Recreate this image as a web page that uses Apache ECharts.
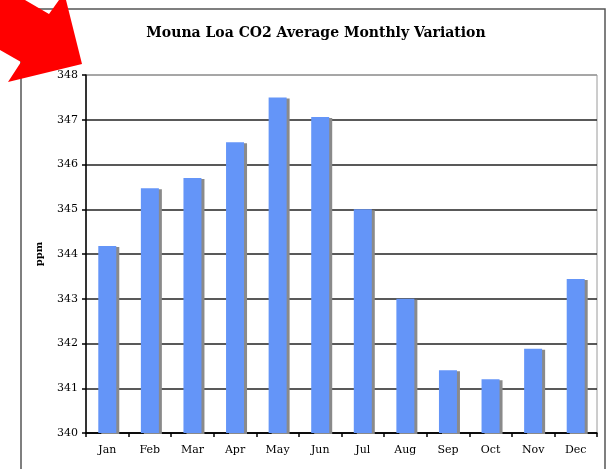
<!DOCTYPE html>
<html>
<head>
<meta charset="utf-8">
<script src="https://cdn.jsdelivr.net/npm/echarts@6/dist/echarts.min.js"></script>
<style>
  html, body { margin: 0; padding: 0; background: #fff; }
  #chart { width: 606px; height: 469px; }
</style>
</head>
<body>
<div id="chart"></div>
<script>
// 月份
var months = ["Jan", "Feb", "Mar", "Apr", "May", "Jun", "Jul", "Aug", "Sep", "Oct", "Nov", "Dec"];
// 平均值 ppm
var co2Values = [344.18, 345.47, 345.7, 346.5, 347.5, 347.06, 345.0, 343.0, 341.4, 341.2, 341.88, 343.44];
var yTicks = [340, 341, 342, 343, 344, 345, 346, 347, 348];

var myChart = echarts.init(document.getElementById("chart"));
var serif = "'DejaVu Serif', 'Liberation Serif', serif";

var option = {
  animation: false,
  backgroundColor: "#ffffff",
  title: {
    text: "Mouna Loa CO2 Average Monthly Variation",
    left: 311,
    top: 21,
    textAlign: "center",
    textStyle: { fontFamily: serif, fontSize: 14, fontWeight: "bold", color: "#000" },
  },
  grid: {
    left: 86,
    right: 9,
    top: 75,
    bottom: 36,
    show: true,
    borderColor: "#9a9a9a",
    borderWidth: 1,
  },
  xAxis: {
    type: "category",
    data: months,
    axisLine: { lineStyle: { color: "#000", width: 1.5 } },
    axisTick: { show: true, length: 4, lineStyle: { color: "#000", width: 1.5 } },
    axisLabel: { fontFamily: serif, fontSize: 11, color: "#000", margin: 12 },
  },
  yAxis: {
    type: "value",
    min: yTicks[0],
    max: yTicks[yTicks.length - 1],
    interval: 1,
    name: "ppm",
    nameLocation: "middle",
    nameGap: 42,
    nameTextStyle: { fontFamily: serif, fontSize: 10, fontWeight: "bold", color: "#000" },
    axisLine: { show: true, lineStyle: { color: "#000", width: 1.5 } },
    axisTick: { show: true, length: 4, lineStyle: { color: "#000", width: 1.5 } },
    axisLabel: { fontFamily: serif, fontSize: 11, color: "#000", margin: 8 },
    splitLine: {
      show: true,
      lineStyle: {
        color: ["#000", "#222", "#222", "#222", "#222", "#222", "#222", "#222", "#9a9a9a"],
        width: 1.5,
      },
    },
  },
  series: [
    {
      type: "bar",
      data: co2Values,
      barWidth: 18,
      itemStyle: {
        color: "#6495f8",
        shadowColor: "#8a8a8a",
        shadowBlur: 0,
        shadowOffsetX: 3,
        shadowOffsetY: 1,
      },
    },
  ],
  graphic: [
    {
      type: "rect",
      shape: { x: 21, y: 9, width: 584, height: 480 },
      style: { fill: null, stroke: "#555", lineWidth: 1.5 },
      silent: true,
      z: 10,
    },
    {
      type: "polygon",
      shape: {
        points: [[0, 0], [25, 0], [49, 14], [59, 0], [66, 0], [82, 64], [8, 82], [21, 62], [0, 50]],
      },
      style: { fill: "#ff0000" },
      silent: true,
      z: 20,
    },
  ],
};
myChart.setOption(option);
</script>
</body>
</html>
